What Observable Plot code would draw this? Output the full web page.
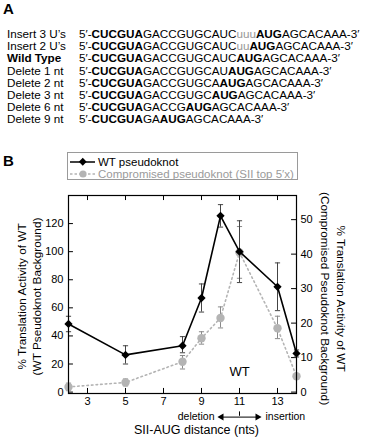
<!DOCTYPE html>
<html>
<head>
<meta charset="utf-8">
<script src="https://cdn.jsdelivr.net/npm/d3@7"></script>
<script src="https://cdn.jsdelivr.net/npm/@observablehq/plot@0.6"></script>
<style>
  body { margin: 0; background: #fff; }
  #fig { position: relative; width: 367px; height: 440px; overflow: hidden;
         font-family: "Liberation Sans", Arial, Helvetica, sans-serif; color: #000; }
  .panel { position: absolute; font-weight: bold; font-size: 15px; line-height: 15px; }
  #seqs { position: absolute; left: 7px; top: 28px; font-size: 11.7px; }
  .row { position: relative; height: 12.2px; line-height: 12.2px; white-space: nowrap; }
  .row .name { position: absolute; left: 0; }
  .row .seq { position: absolute; left: 72px; }
  .ins { color: #999; }
  #chart { position: absolute; left: 0; top: 140px; }
  #legend { position: absolute; left: 67px; top: 152px; width: 229px; height: 26px;
            border: 1px solid #9a9a9a; font-size: 11.5px; background: #fff; }
  #legend .item { position: absolute; left: 0; height: 12px; line-height: 12px; white-space: nowrap; }
  #legend svg { position: absolute; left: 1px; top: 0; }
  #legend span { position: absolute; left: 30px; }
</style>
</head>
<body>
<div id="fig">
  <div class="panel" style="left:3px;top:1px">A</div>
  <div id="seqs"></div>
  <div class="panel" style="left:3px;top:153px">B</div>
  <div id="chart"></div>
  <div id="legend"></div>
</div>
<script>
// Panel A: mRNA constructs (SII stem, spacer, start codon)
const variantNames = ["Insert 3 U’s", "Insert 2 U’s", "Wild Type", "Delete 1 nt",
                      "Delete 2 nt", "Delete 3 nt", "Delete 6 nt", "Delete 9 nt"];
const spacers = ["GACCGUGCAUC", "GACCGUGCAUC", "GACCGUGCAUC", "GACCGUGCAU",
                 "GACCGUGCA", "GACCGUGC", "GACCG", "GA"];
const insertedU = ["uuu", "uu", "", "", "", "", "", ""];
const stemSeq = "CUCGUA";
const startCodon = "AUG";
const downstreamSeq = "AGCACAAA";

// Panel B: SII–AUG distance vs. translation activity
const distance = [2, 5, 8, 9, 10, 11, 13, 14];
const wtActivity = [48.5, 26.5, 33, 67, 125.5, 100, 75, 27.5];
const wtLow      = [43, 20, 28, 57, 117.5, 78, 58, 25];
const wtHigh     = [54, 33, 39.5, 77, 133.5, 122, 92, 30];
const compActivity = [1.5, 2.8, 8.8, 15.6, 21.5, 40.5, 18.5, 4.6];
const compLow      = [0.4, 1.8, 6.7, 13.9, 18.6, 33, 15.5, 4.6];
const compHigh     = [2.6, 3.8, 10.6, 17.5, 24.7, 48, 22, 4.6];

const xTicks = [3, 5, 7, 9, 11, 13];
const leftTicks = [0, 20, 40, 60, 80, 100, 120];
const rightTicks = [0, 10, 20, 30, 40, 50];
const xMin = 2, xMax = 14, leftMin = -1, leftMax = 140, rightMax = 57;

const seriesNames = ["WT pseudoknot", "Compromised pseudoknot (SII top 5′x)"];
const seriesColors = ["#000000", "#b4b4b4"];
const seriesText = ["#000000", "#9a9a9a"];

const leftTitle = "% Translation Activity of WT\n(WT Pseudoknot Background)";
const rightTitle = "% Translation Activity of WT\n(Compromised Pseudoknot Background)";
const xTitle = "SII-AUG distance (nts)";
const siteLabel = "WT";

// ---- panel A rows
const seqs = document.getElementById("seqs");
variantNames.forEach((name, i) => {
  const row = document.createElement("div");
  row.className = "row";
  const nm = document.createElement("span");
  nm.className = "name";
  nm.textContent = name;
  if (name === "Wild Type") nm.style.fontWeight = "bold";
  const sq = document.createElement("span");
  sq.className = "seq";
  sq.innerHTML = `5′-<b>${stemSeq}</b>${spacers[i]}<span class="ins">${insertedU[i]}</span><b>${startCodon}</b>${downstreamSeq}-3′`;
  row.append(nm, sq);
  seqs.append(row);
});

// ---- legend
const legend = document.getElementById("legend");
seriesNames.forEach((name, i) => {
  const item = document.createElement("div");
  item.className = "item";
  item.style.top = (3 + i * 12) + "px";
  const c = seriesColors[i];
  const marker = i === 0
    ? `<rect x="11" y="3" width="5.5" height="5.5" fill="${c}" transform="rotate(45 13.75 5.75)"/>`
    : `<circle cx="14" cy="6" r="3.6" fill="${c}"/>`;
  const dash = i === 0 ? "" : `stroke-dasharray="2.5,2"`;
  item.innerHTML = `<svg width="28" height="12"><line x1="1" x2="26" y1="6" y2="6" stroke="${c}" stroke-width="1.5" ${dash}/>${marker}</svg><span style="color:${seriesText[i]}">${name}</span>`;
  legend.append(item);
});

// ---- panel B chart
const k = leftMax / rightMax; // right-axis value -> left-axis units
const yMid = (leftMin + leftMax) / 2;
const wt = distance.map((x, i) => ({x, y: wtActivity[i], lo: wtLow[i], hi: wtHigh[i]}));
const comp = distance.map((x, i) => ({x, y: compActivity[i] * k, lo: compLow[i] * k, hi: compHigh[i] * k}));

const hLine = {draw(ctx, size) { const r = Math.sqrt(size / Math.PI); ctx.moveTo(-r, 0); ctx.lineTo(r, 0); }};
const vLine = {draw(ctx, size) { const r = Math.sqrt(size / Math.PI); ctx.moveTo(0, -r); ctx.lineTo(0, r); }};

const chart = Plot.plot({
  width: 367,
  height: 300,
  marginLeft: 68,
  marginRight: 71,
  marginTop: 55,
  marginBottom: 47,
  x: {domain: [xMin, xMax]},
  y: {domain: [leftMin, leftMax]},
  style: {fontFamily: '"Liberation Sans", Arial, Helvetica, sans-serif', fontSize: "11px", background: "transparent", overflow: "visible"},
  marks: [
    // inward ticks on all four sides
    Plot.ruleX(xTicks, {x: d => d, y1: leftMin, y2: 2.6, stroke: "#000"}),
    Plot.ruleX(xTicks, {x: d => d, y1: leftMax - 3.6, y2: leftMax, stroke: "#000"}),
    Plot.ruleY(leftTicks, {y: d => d, x1: xMin, x2: xMin + 0.26, stroke: "#000"}),
    Plot.ruleY(rightTicks, {y: d => d * k, x1: xMax - 0.26, x2: xMax, stroke: "#000"}),
    Plot.axisX(xTicks, {tickSize: 0, tickPadding: 4, label: null, fontSize: 11}),
    Plot.axisY(leftTicks, {tickSize: 0, tickPadding: 5, label: null, fontSize: 11}),
    Plot.axisY(rightTicks.map(v => v * k), {anchor: "right", tickSize: 0, tickPadding: 4, label: null, fontSize: 11,
      tickFormat: d => String(Math.round(d / k))}),

    // compromised pseudoknot series (right axis)
    Plot.line(comp, {x: "x", y: "y", stroke: seriesColors[1], strokeWidth: 1.6, strokeDasharray: "1.6,3"}),
    Plot.ruleX(comp, {x: "x", y1: "lo", y2: "hi", stroke: "#8a8a8a", strokeWidth: 1}),
    Plot.dot(comp, {x: "x", y: "lo", symbol: hLine, r: 2.6, stroke: "#8a8a8a", fill: "none", strokeWidth: 1}),
    Plot.dot(comp, {x: "x", y: "hi", symbol: hLine, r: 2.6, stroke: "#8a8a8a", fill: "none", strokeWidth: 1}),
    Plot.dot(comp, {x: "x", y: "y", r: 4.2, fill: seriesColors[1], stroke: "none"}),

    // WT pseudoknot series (left axis)
    Plot.ruleX(wt, {x: "x", y1: "lo", y2: "hi", stroke: "#444", strokeWidth: 1}),
    Plot.dot(wt, {x: "x", y: "lo", symbol: hLine, r: 2.6, stroke: "#444", fill: "none", strokeWidth: 1}),
    Plot.dot(wt, {x: "x", y: "hi", symbol: hLine, r: 2.6, stroke: "#444", fill: "none", strokeWidth: 1}),
    Plot.line(wt, {x: "x", y: "y", stroke: seriesColors[0], strokeWidth: 1.6}),
    Plot.dot(wt, {x: "x", y: "y", symbol: "square", rotate: 45, r: 3.3, fill: seriesColors[0], stroke: "none"}),

    Plot.frame({stroke: "#000", strokeWidth: 1.2}),

    // axis titles, centred on the frame's vertical middle
    Plot.text([leftTitle], {x: () => xMin, y: () => yMid, rotate: -90, dx: -40, dy: 2, lineHeight: 1.27, fontSize: 11.8}),
    Plot.text([rightTitle], {x: () => xMax, y: () => yMid, rotate: 90, dx: 38, dy: 4, lineHeight: 1.35, fontSize: 11.8}),
    Plot.text([xTitle], {frameAnchor: "bottom", dx: 14, dy: 40, fontSize: 12.5}),

    // wild-type spacing marker and direction arrows
    Plot.text([siteLabel], {x: () => 11, y: () => 0, dy: -20, fontSize: 13}),
    Plot.ruleY([0], {y: d => d, x1: 10.05, x2: 11.95, dy: 25, stroke: "#000", strokeWidth: 1}),
    Plot.dot([10.05, 11.95], {x: d => d, y: () => 0, dy: 25, symbol: "triangle", r: 2.6,
      rotate: d => d < 11 ? -90 : 90, fill: "#000", stroke: "none"}),
    Plot.dot([11], {x: d => d, y: () => 0, dy: 21.5, symbol: vLine, r: 2.2, stroke: "#000", fill: "none", strokeWidth: 1}),
    Plot.text(["deletion"], {x: () => 10, y: () => 0, dy: 25, dx: -6, textAnchor: "end", fontSize: 10.5}),
    Plot.text(["insertion"], {x: () => 12, y: () => 0, dy: 25, dx: 7, textAnchor: "start", fontSize: 10.5})
  ]
});
document.getElementById("chart").append(chart);
</script>
</body>
</html>
